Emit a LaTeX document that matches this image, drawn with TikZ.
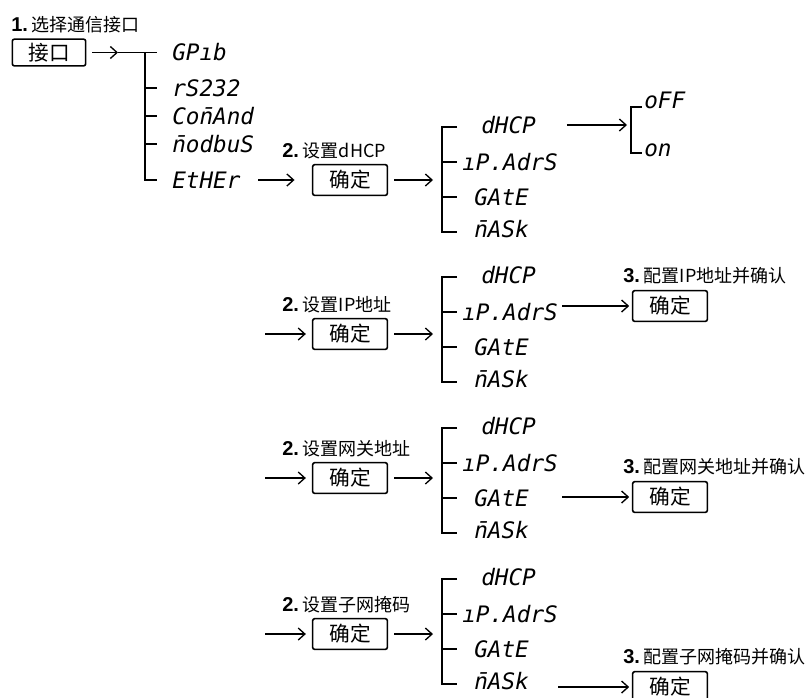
\documentclass[tikz,border=0pt]{standalone}
\usepackage{fontspec}
\setmainfont{Noto Sans CJK SC}
\newfontfamily\segfont{DejaVu Sans Mono}
\newfontfamily\numfont{Liberation Sans}
\usetikzlibrary{arrows.meta,calc}

\newcommand\stepno[1]{{\numfont\bfseries\fontsize{15pt}{16pt}\selectfont #1.}\hspace{3pt}}
\newcommand\mbar{\ooalign{n\cr\hidewidth\kern1.5pt¯\hidewidth\cr}}
\tikzset{
  lbl/.style={anchor=west, inner sep=0pt, font=\fontsize{13.5pt}{16pt}\selectfont},
  okbox/.style={draw, line width=1.2pt, rounded corners=1.5pt, minimum width=56pt,
                minimum height=23pt, inner sep=0pt, font=\fontsize{15.5pt}{18pt}\selectfont},
  seg/.style={anchor=west, inner sep=0pt, text height=12.4pt, text depth=0pt,
              font=\segfont\fontsize{17pt}{20pt}\selectfont\itshape},
  arr/.style={-{Straight Barb[length=5pt,width=9pt]}, line width=1pt},
  tree/.style={line width=1.3pt},
}

\begin{document}
\begin{tikzpicture}[x=0.75pt, y=-0.75pt]
  \useasboundingbox (0,0) rectangle (812,697);
  % step 1: choose the interface
  \node [lbl] (step1) at (11,25) {\stepno{1}选择通信接口};
  \node [okbox, minimum width=55pt, minimum height=20pt] (ifbox) at (49,52.5) {接口};
  \coordinate (split) at (118,52.5);
  \draw [arr, shorten <=4.5pt] (ifbox) -- (split);
  \draw [tree] (split) -- (157,52.5);
  \draw [tree] (145,52.5) -- (145,180) -- (157,180);
  \foreach \y in {88,116,144}
    \draw [tree] (145,\y) -- (157,\y);
  \foreach \name/\txt/\y in {gpib/GPıb/52.5, rs/rS232/88, cmd/Co\mbar{}And/116,
                             mod/\mbar{}odbuS/144, ether/EtHEr/180}
    \node [seg] (\name) at (172,\y) {\txt};

  % step 2: one row per setting
  \foreach \r/\B/\T/\txt in {1/180/127/设置dHCP, 2/334/277/设置IP地址,
                             3/478/428/设置网关地址, 4/634/579/设置子网掩码} {
    \node [okbox] (ok\r) at (350,\B) {确定};
    \node [lbl] (set\r) at (282,\B-29) {\stepno{2}\txt};
    \coordinate (ent\r) at (433,\B);
    \draw [arr, shorten <=4.5pt] (ok\r) -- (ent\r);
    \draw [tree] (457,\T) -- (442,\T) -- (442,\T+105) -- (457,\T+105);
    \draw [tree] (442,\T+35) -- (457,\T+35) (442,\T+70) -- (457,\T+70);
    \node [seg] (dhcp\r) at (481,\T-2) {dHCP};
    \node [seg] (ipadr\r) at (462,\T+35) {ıP.AdrS};
    \node [seg] (gate\r) at (474,\T+70) {GAtE};
    \node [seg] (mask\r) at (474,\T+102) {\mbar{}ASk};
  }
  \draw [arr, shorten <=13pt, shorten >=13pt] (ether) -- (ok1);
  \foreach \r/\B in {2/334, 3/478, 4/634} {
    \coordinate (in\r) at (265,\B);
    \draw [arr, shorten >=4.5pt] (in\r) -- (ok\r);
  }

  % dHCP switch
  \coordinate (sw) at (631,125);
  \draw [arr, shorten <=23pt, shorten >=3pt] (dhcp1) -- (sw);
  \draw [tree] (642,107) -- (631,107) -- (631,153) -- (642,153);
  \node [seg] (off) at (644,100) {oFF};
  \node [seg] (on) at (644,148) {on};

  % step 3: confirm the value
  \foreach \r/\item/\y/\s/\txt in {2/ipadr/306/3pt/配置IP地址并确认,
                                   3/gate/497/25pt/配置网关地址并确认,
                                   4/mask/687/22pt/配置子网掩码并确认} {
    \node [okbox] (cfm\r) at (670,\y) {确定};
    \node [lbl] (conf\r) at (623,\y-30) {\stepno{3}\txt};
    \draw [arr, shorten <=\s, shorten >=2pt] (\item\r.east |- cfm\r) -- (cfm\r.west);
  }
\end{tikzpicture}
\end{document}
